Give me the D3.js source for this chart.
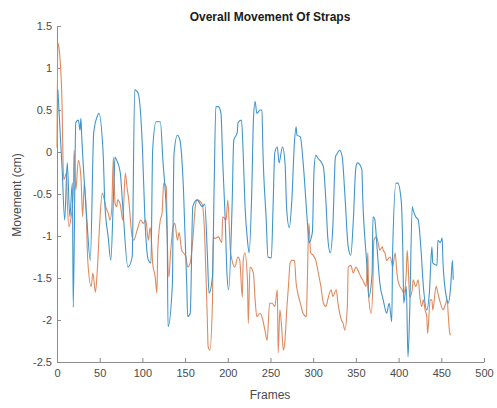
<!DOCTYPE html>
<html>
<head>
<meta charset="utf-8">
<script src="https://cdn.jsdelivr.net/npm/d3@7"></script>
<style>
  html, body { margin: 0; padding: 0; background: #fff; }
  svg { display: block; font-family: "Liberation Sans", Arial, sans-serif; }
</style>
</head>
<body>
<svg id="chart" width="497" height="408"></svg>
<script>
// ---- data ----
const title = "Overall Movement Of Straps";
const xLabel = "Frames";
const yLabel = "Movement (cm)";
const xTicks = [0, 50, 100, 150, 200, 250, 300, 350, 400, 450, 500];
const yTicks = [-2.5, -2, -1.5, -1, -0.5, 0, 0.5, 1, 1.5];
const yTickLabels = ["-2.5", "-2", "-1.5", "-1", "-0.5", "0", "0.5", "1", "1.5"];

const blueFrames = [1, 6, 9, 12, 15, 18, 19, 22, 25, 27, 28, 29, 35, 39, 43, 47, 49, 54, 56, 60, 63, 66, 68, 70, 74, 77, 83, 88, 91, 95, 100, 103, 107, 110, 112, 116, 121, 124, 129, 130, 135, 137, 141, 144, 148, 152, 153, 156, 159, 164, 170, 173, 176, 178, 182, 184, 186, 189, 192, 194, 197, 199, 201, 205, 207, 211, 212, 216, 218, 220, 223, 225, 228, 230, 232, 234, 238, 240, 241, 245, 247, 251, 253, 255, 258, 260, 264, 267, 269, 272, 275, 278, 280, 281, 285, 288, 293, 295, 299, 301, 303, 306, 310, 312, 315, 317, 320, 323, 326, 328, 331, 334, 337, 341, 344, 347, 350, 352, 357, 358, 363, 365, 369, 370, 372, 375, 378, 382, 386, 389, 392, 393, 397, 399, 403, 405, 406, 409, 411, 413, 416, 417, 420, 423, 426, 429, 433, 436, 439, 440, 445, 446, 449, 451, 452, 456, 458, 461, 463, 464];
const blueValues = [0.74, -0.2, -0.81, -0.13, -0.77, -0.37, -1.85, 0.35, 0.38, 0.26, 0.4, 0.18, -0.81, -1.29, 0.23, 0.42, 0.46, -0.01, -0.61, -1.02, -1.29, -0.57, -0.06, -0.1, -0.24, -0.65, -1.37, -1.25, 0.74, 0.7, 0.06, -0.81, -1.29, -1.32, 0.02, 0.36, 0.36, -0.1, -0.96, -2.08, -1.6, -0.02, 0.2, 0.14, -0.42, -1.6, -1.96, -1.92, -0.65, -0.57, -0.65, -0.62, -1.2, -1.68, -1.49, -0.42, 0.54, 0.54, 0.46, -0.1, -0.81, -1.44, -1.64, -0.65, 0.14, 0.23, 0.35, 0.38, -0.01, -0.61, -1.05, -1.2, -0.49, 0.38, 0.6, 0.46, 0.5, 0.5, 0.06, -0.81, -1.25, -1.26, -0.65, -0.01, 0.06, -0.13, 0.06, -0.13, -0.69, -0.9, -0.57, 0.11, 0.3, 0.2, 0.18, -0.1, -0.81, -1.08, -0.96, -0.21, -0.04, -0.08, -0.13, -0.18, -0.61, -1.01, -1.2, -0.89, -0.06, -0.02, 0.02, -0.06, -0.49, -1.13, -1.23, -0.81, -0.18, -0.13, -0.21, -0.54, -1.37, -1.73, -1.44, -0.77, -0.8, -1.17, -1.56, -1.76, -1.92, -1.8, -2.02, -1.2, -0.37, -0.37, -0.57, -1.2, -1.8, -1.6, -2.44, -1.9, -0.65, -0.69, -0.77, -0.81, -1.13, -1.6, -1.88, -1.68, -1.13, -1.32, -1.35, -1.05, -1.08, -1.02, -1.32, -1.73, -1.8, -1.6, -1.29, -1.52];

const orangeFrames = [0, 1, 3, 6, 7, 8, 11, 12, 14, 16, 19, 20, 22, 25, 28, 30, 32, 34, 36, 40, 42, 45, 47, 50, 53, 55, 57, 60, 62, 64, 66, 68, 70, 71, 74, 77, 80, 82, 84, 88, 90, 93, 95, 98, 101, 104, 107, 109, 111, 112, 115, 117, 118, 121, 123, 125, 128, 129, 131, 133, 136, 138, 141, 143, 146, 148, 151, 153, 156, 159, 162, 164, 170, 173, 176, 177, 179, 182, 183, 185, 189, 193, 194, 198, 200, 203, 205, 208, 212, 214, 217, 218, 220, 223, 224, 226, 230, 232, 234, 238, 241, 244, 246, 249, 252, 255, 258, 259, 261, 263, 265, 267, 269, 271, 273, 275, 278, 280, 282, 286, 288, 292, 293, 294, 295, 297, 300, 303, 306, 309, 312, 315, 317, 321, 323, 327, 329, 333, 335, 337, 340, 341, 344, 347, 350, 352, 356, 358, 362, 364, 365, 368, 370, 371, 374, 376, 378, 381, 382, 384, 386, 390, 392, 393, 396, 398, 400, 404, 406, 409, 410, 411, 413, 416, 417, 420, 423, 425, 427, 429, 431, 433, 434, 437, 439, 440, 444, 446, 449, 452, 454, 457, 458, 460, 461];
const orangeValues = [0.05, 1.3, 1.18, 0.54, -0.1, -0.33, -0.25, -0.57, -0.89, -0.81, -0.49, 0.02, -0.45, -0.1, -0.29, -0.77, -0.37, -0.65, -1.29, -1.6, -1.44, -1.67, -1.44, -0.85, -0.49, -0.55, -0.65, -0.73, -0.81, -0.69, -0.06, -0.61, -0.65, -0.57, -0.62, -0.81, -0.25, -0.42, -0.57, -1.01, -1.05, -0.96, -0.89, -0.81, -0.85, -0.81, -1.05, -0.9, -1.13, -1.32, -1.49, -1.68, -1.17, -0.81, -0.73, -0.37, -0.42, -0.96, -1.49, -1.2, -0.89, -0.85, -1.05, -0.96, -1.17, -1.2, -1.25, -1.37, -1.32, -1.05, -0.65, -0.57, -0.62, -1.01, -2.0, -2.32, -2.36, -1.8, -1.01, -1.03, -1.01, -1.08, -0.77, -0.81, -0.57, -1.17, -1.29, -1.37, -1.25, -1.29, -1.73, -1.3, -1.2, -1.52, -2.04, -1.37, -1.44, -1.76, -1.96, -1.92, -2.0, -2.15, -2.24, -1.8, -1.8, -1.84, -1.64, -2.39, -1.88, -2.08, -2.36, -2.24, -1.88, -1.6, -1.32, -1.29, -1.29, -1.56, -1.68, -1.84, -1.92, -1.96, -1.6, -1.13, -0.85, -1.2, -1.23, -1.29, -1.44, -1.6, -1.8, -1.84, -1.76, -1.64, -1.72, -1.64, -1.8, -2.0, -2.04, -2.12, -1.84, -1.37, -1.35, -1.44, -1.37, -1.4, -1.49, -1.52, -1.6, -1.2, -1.73, -1.92, -1.52, -1.05, -1.01, -1.08, -1.17, -1.13, -1.17, -1.2, -1.29, -1.25, -1.32, -1.37, -1.2, -1.44, -1.56, -1.64, -1.68, -1.44, -1.17, -1.3, -1.73, -1.64, -1.52, -1.6, -1.52, -1.73, -1.84, -1.76, -1.88, -1.96, -2.16, -1.76, -1.76, -1.88, -1.6, -1.68, -1.8, -1.88, -1.84, -1.76, -1.92, -2.16, -2.18];

// ---- drawing ----
const svg = d3.select("#chart");
const x = d3.scaleLinear().domain([0, 500]).range([57, 484]);
const y = d3.scaleLinear().domain([-2.5, 1.5]).range([362, 26]);

const axisColor = "#8c8c8c";
const textColor = "#4a4a4a";

const xAxis = d3.axisBottom(x).tickValues(xTicks).tickFormat(d3.format("d"))
  .tickSizeInner(-4).tickSizeOuter(0).tickPadding(7);
const yAxis = d3.axisLeft(y).tickValues(yTicks)
  .tickFormat((d, i) => yTickLabels[i])
  .tickSizeInner(-4).tickSizeOuter(0).tickPadding(5);

const gx = svg.append("g").attr("transform", `translate(0,${y(-2.5)})`).call(xAxis);
const gy = svg.append("g").attr("transform", `translate(${x(0)},0)`).call(yAxis);
[gx, gy].forEach(g => {
  g.select(".domain").attr("stroke", axisColor).attr("stroke-width", 1);
  g.selectAll(".tick line").attr("stroke", axisColor);
  g.selectAll(".tick text").attr("fill", textColor)
    .style("font-size", "11px").style("font-family", "'Liberation Sans', Arial, sans-serif");
});

const blueData = blueFrames.map((f, i) => [f, blueValues[i]]);
const orangeData = orangeFrames.map((f, i) => [f, orangeValues[i]]);
const line = d3.line().curve(d3.curveMonotoneX).x(d => x(d[0])).y(d => y(d[1]));

svg.append("path").datum(orangeData).attr("d", line)
  .attr("fill", "none").attr("stroke", "#df8a5e").attr("stroke-width", 1.1)
  .attr("stroke-linejoin", "round");
svg.append("path").datum(blueData).attr("d", line)
  .attr("fill", "none").attr("stroke", "#4095cb").attr("stroke-width", 1.1)
  .attr("stroke-linejoin", "round");

svg.append("text").attr("x", 270).attr("y", 21).attr("text-anchor", "middle")
  .style("font-size", "12px").style("font-weight", "bold").attr("fill", "#1a1a1a")
  .text(title);
svg.append("text").attr("x", 270).attr("y", 399).attr("text-anchor", "middle")
  .style("font-size", "12px").attr("fill", textColor).text(xLabel);
svg.append("text").attr("transform", "translate(21,195) rotate(-90)")
  .attr("text-anchor", "middle").style("font-size", "12px").attr("fill", textColor)
  .text(yLabel);
</script>
</body>
</html>
